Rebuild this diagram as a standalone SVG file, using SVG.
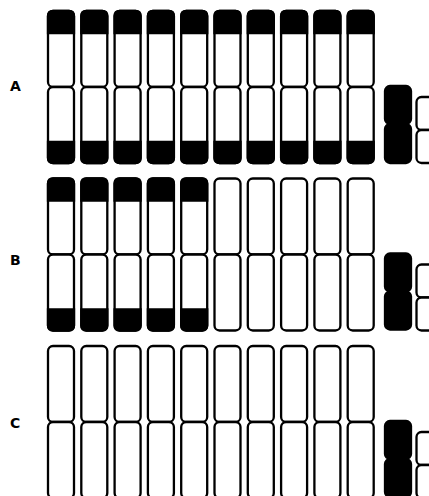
<svg xmlns="http://www.w3.org/2000/svg" width="429" height="496" viewBox="0 0 429 496">
<style>
.s{fill:#fff;stroke:#000;stroke-width:2.3}
.b{fill:#000;stroke:#000;stroke-width:2.3}
.l{font-family:"DejaVu Sans","Liberation Sans",Arial,sans-serif;font-weight:bold;font-size:14px;fill:#000}
</style>
<defs>
<rect id="seg" width="26" height="76" rx="5" class="s"/>
<path id="tb" d="M0,22V5Q0,0 5,0H21Q26,0 26,5V22Z" class="b"/>
<path id="bb" d="M0,0H26V16Q26,21 21,21H5Q0,21 0,16Z" class="b"/>
<g id="col"><use href="#seg" y="0"/><use href="#seg" y="76"/></g>
<g id="colb"><use href="#col"/><use href="#tb"/><use href="#bb" y="131"/></g>
</defs>
<text class="l" x="10" y="91">A</text>
<text class="l" x="10" y="265">B</text>
<text class="l" x="10" y="428">C</text>
<g id="rowA" transform="translate(0,11)">
<use href="#colb" x="48"/><use href="#colb" x="81.3"/><use href="#colb" x="114.6"/><use href="#colb" x="147.9"/><use href="#colb" x="181.2"/>
<use href="#colb" x="214.5"/><use href="#colb" x="247.8"/><use href="#colb" x="281.1"/><use href="#colb" x="314.4"/><use href="#colb" x="347.7"/>
<g id="smallA1"><rect x="385" y="75" width="26" height="38" rx="5" class="b"/><rect x="385" y="113" width="26" height="39" rx="5" class="b"/></g>
<g id="smallA2"><rect x="416.5" y="86" width="26" height="33" rx="5" class="s"/><rect x="416.5" y="119" width="26" height="33" rx="5" class="s"/></g>
</g>
<g id="rowB" transform="translate(0,178.5)">
<use href="#colb" x="48"/><use href="#colb" x="81.3"/><use href="#colb" x="114.6"/><use href="#colb" x="147.9"/><use href="#colb" x="181.2"/>
<use href="#col" x="214.5"/><use href="#col" x="247.8"/><use href="#col" x="281.1"/><use href="#col" x="314.4"/><use href="#col" x="347.7"/>
<g id="smallB1"><rect x="385" y="75" width="26" height="38" rx="5" class="b"/><rect x="385" y="113" width="26" height="38" rx="5" class="b"/></g>
<g id="smallB2"><rect x="416.5" y="86" width="26" height="33" rx="5" class="s"/><rect x="416.5" y="119" width="26" height="33" rx="5" class="s"/></g>
</g>
<g id="rowC" transform="translate(0,346)">
<use href="#col" x="48"/><use href="#col" x="81.3"/><use href="#col" x="114.6"/><use href="#col" x="147.9"/><use href="#col" x="181.2"/>
<use href="#col" x="214.5"/><use href="#col" x="247.8"/><use href="#col" x="281.1"/><use href="#col" x="314.4"/><use href="#col" x="347.7"/>
<g id="smallC1"><rect x="385" y="75" width="26" height="38" rx="5" class="b"/><rect x="385" y="113" width="26" height="38" rx="5" class="b"/></g>
<g id="smallC2"><rect x="416.5" y="86" width="26" height="33" rx="5" class="s"/><rect x="416.5" y="119" width="26" height="33" rx="5" class="s"/></g>
</g>
<g id="connectors"/>
</svg>
